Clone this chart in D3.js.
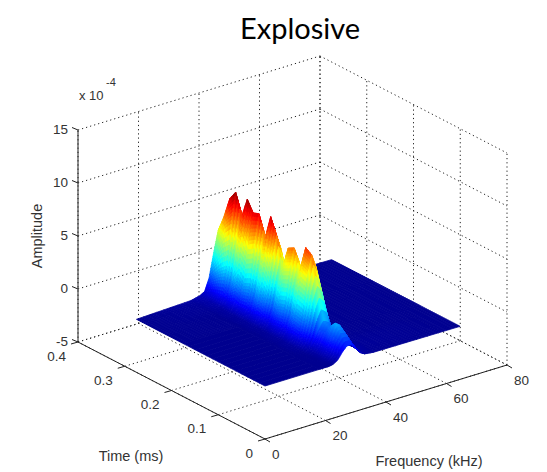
<!DOCTYPE html>
<html>
<head>
<meta charset="utf-8">
<script src="https://cdn.jsdelivr.net/npm/d3@7"></script>
<style>
  html, body { margin: 0; padding: 0; background: #fff; }
  svg { display: block; }
  text { font-family: "Liberation Sans", Arial, sans-serif; fill: #333; }
</style>
</head>
<body>
<div id="chart"></div>
<script>
// values
const freqTicks = [0, 20, 40, 60, 80];
const timeTicks = [0, 0.1, 0.2, 0.3, 0.4];
const ampTicks = [-5, 0, 5, 10, 15];

const freqGrid = [0, 18, 21, 22.5, 24, 25.5, 27, 28.5, 30, 31.5, 33, 36, 64.5];
const timeGrid = [0, 0.0125, 0.025, 0.0375, 0.05, 0.0625, 0.075, 0.0875, 0.1, 0.1125, 0.125, 0.1375,
  0.15, 0.1625, 0.175, 0.1875, 0.2, 0.2125, 0.225, 0.2375, 0.25, 0.2625, 0.275];

// one row per timeGrid entry, one column per freqGrid entry (x 10^-4)
const amplitude = [
  [0, 0, 0, 0.08, 0.35, 0.95, 1.4, 1.45, 0.95, 0.4, 0.15, 0.05, 0],
  [0, 0, 0.02, 0.15, 0.6, 1.6, 2.3, 2.2, 1.4, 0.6, 0.2, 0.08, 0],
  [0, 0, 0.03, 0.2, 0.8, 2.0, 3.0, 2.7, 1.6, 0.65, 0.25, 0.1, 0],
  [0, 0, 0.03, 0.2, 0.7, 1.6, 2.3, 2.0, 1.2, 0.5, 0.2, 0.1, 0],
  [0, 0, 0.05, 0.3, 0.9, 1.9, 2.6, 2.4, 1.5, 0.6, 0.2, 0.08, 0],
  [0, 0, 0.1, 0.6, 2.0, 4.2, 5.6, 4.9, 2.8, 1.0, 0.25, 0.05, 0],
  [0, 0, 0.15, 0.9, 3.0, 6.2, 8.3, 7.0, 3.9, 1.4, 0.3, 0.03, 0],
  [0, 0, 0.18, 1.0, 3.2, 6.5, 8.7, 7.2, 4.0, 1.4, 0.3, 0.03, 0],
  [0, 0, 0.12, 0.7, 2.0, 4.4, 6.3, 5.3, 3.0, 1.1, 0.25, 0.03, 0],
  [0, 0, 0.15, 0.95, 3.0, 6.0, 8.1, 6.8, 3.8, 1.3, 0.3, 0.03, 0],
  [0, 0, 0.15, 0.9, 2.8, 5.7, 7.8, 6.5, 3.6, 1.3, 0.3, 0.03, 0],
  [0, 0, 0.1, 0.6, 1.7, 3.7, 5.6, 4.8, 2.8, 1.0, 0.2, 0.03, 0],
  [0, 0, 0.14, 0.9, 2.8, 6.0, 8.4, 7.0, 4.0, 1.4, 0.3, 0.03, 0],
  [0, 0, 0.18, 1.1, 3.5, 7.2, 9.9, 8.2, 4.6, 1.6, 0.35, 0.03, 0],
  [0, 0, 0.13, 0.8, 2.3, 4.9, 7.5, 6.4, 3.7, 1.3, 0.3, 0.03, 0],
  [0, 0.02, 0.16, 1.0, 3.3, 6.9, 9.6, 7.9, 4.4, 1.6, 0.35, 0.03, 0],
  [0, 0.02, 0.15, 0.95, 3.0, 6.5, 9.4, 8.0, 4.5, 1.7, 0.4, 0.03, 0],
  [0, 0.03, 0.2, 1.15, 3.6, 7.5, 10.4, 8.6, 4.8, 1.7, 0.4, 0.03, 0],
  [0, 0.05, 0.18, 0.9, 2.6, 5.6, 8.4, 7.2, 4.2, 1.5, 0.35, 0.03, 0],
  [0, 0.08, 0.25, 1.2, 3.8, 7.6, 10.5, 8.8, 5.0, 1.8, 0.4, 0.03, 0],
  [0, 0.1, 0.3, 1.1, 3.3, 6.9, 9.6, 8.4, 4.9, 1.8, 0.4, 0.03, 0],
  [0, 0.12, 0.35, 0.9, 2.6, 5.4, 7.6, 7.2, 4.9, 2.0, 0.5, 0.03, 0],
  [0, 0.2, 0.4, 0.65, 1.8, 4.0, 6.0, 6.7, 6.0, 3.0, 0.8, 0.1, 0]
];

const zMax = 10.6;
const jetStops = [0, 0.11, 0.36, 0.61, 0.86, 1];
const jetColors = ['#00008f', '#0000ff', '#00ffff', '#ffff00', '#ff0000', '#800000'];

const width = 547, height = 472;
const origin = {x: 265, y: 439};

// the three axes of the box as screen offsets
const freqX = d3.scaleLinear([0, 80], [0, 242]);
const freqY = d3.scaleLinear([0, 80], [0, -74]);
const timeX = d3.scaleLinear([0, 0.4], [0, -187]);
const timeY = d3.scaleLinear([0, 0.4], [0, -97]);
const ampY = d3.scaleLinear([-5, 15], [0, -212]);
const jet = d3.scaleLinear()
    .domain(jetStops.map(d => d * zMax))
    .range(jetColors)
    .clamp(true);

function project(f, t, a) {
  return [
    origin.x + freqX(f) + timeX(t),
    origin.y + freqY(f) + timeY(t) + ampY(a)
  ];
}

const svg = d3.select('#chart').append('svg')
    .attr('width', width)
    .attr('height', height);

const line = d3.line();

// dotted grid on the floor and the two back walls
const gridLines = [];
freqTicks.forEach(f => {
  gridLines.push([project(f, 0, -5), project(f, 0.4, -5)]);
  gridLines.push([project(f, 0.4, -5), project(f, 0.4, 15)]);
});
timeTicks.forEach(t => {
  gridLines.push([project(0, t, -5), project(80, t, -5)]);
  gridLines.push([project(80, t, -5), project(80, t, 15)]);
});
ampTicks.forEach(a => {
  gridLines.push([project(0, 0.4, a), project(80, 0.4, a)]);
  gridLines.push([project(80, 0.4, a), project(80, 0, a)]);
});

svg.append('g')
    .attr('fill', 'none')
    .attr('stroke', '#222')
    .attr('stroke-dasharray', '1.2 3')
  .selectAll('path')
  .data(gridLines)
  .join('path')
    .attr('d', line);

// surface, painted back to front. Each grid cell is split up so the colour runs smoothly across it
function lerp(a, b, k) { return a + (b - a) * k; }

const surface = svg.append('g');
for (let i = timeGrid.length - 2; i >= 0; i--) {
  for (let j = freqGrid.length - 2; j >= 0; j--) {
    const z00 = amplitude[i][j], z01 = amplitude[i][j + 1];
    const z10 = amplitude[i + 1][j], z11 = amplitude[i + 1][j + 1];
    const flat = z00 === 0 && z01 === 0 && z10 === 0 && z11 === 0;
    const nu = flat ? 1 : 8, nv = flat ? 1 : 3;
    const at = (u, v) => lerp(lerp(z00, z01, u), lerp(z10, z11, u), v);
    const pt = (u, v) => project(
      lerp(freqGrid[j], freqGrid[j + 1], u),
      lerp(timeGrid[i], timeGrid[i + 1], v),
      at(u, v)
    );
    for (let b = nv - 1; b >= 0; b--) {
      for (let a = nu - 1; a >= 0; a--) {
        const u0 = a / nu, u1 = (a + 1) / nu, v0 = b / nv, v1 = (b + 1) / nv;
        const c = jet(at((u0 + u1) / 2, (v0 + v1) / 2));
        surface.append('path')
            .attr('d', line([pt(u0, v0), pt(u1, v0), pt(u1, v1), pt(u0, v1)]) + 'Z')
            .attr('fill', c)
            .attr('stroke', c)
            .attr('stroke-width', 0.8);
      }
    }
  }
}

// solid axes
const axisLines = [
  [project(0, 0.4, -5), project(0, 0.4, 15)],
  [project(0, 0.4, -5), project(0, 0, -5)],
  [project(0, 0, -5), project(80, 0, -5)]
];
const axes = svg.append('g').attr('fill', 'none').attr('stroke', '#222');
axes.selectAll('path.axis')
  .data(axisLines)
  .join('path')
    .attr('class', 'axis')
    .attr('d', line);

const tickLines = [
  ...ampTicks.map(a => { const p = project(0, 0.4, a); return [p, [p[0] - 6, p[1] - 2.5]]; }),
  ...timeTicks.map(t => { const p = project(0, t, -5); return [p, [p[0] - 7, p[1] + 2]]; }),
  ...freqTicks.map(f => { const p = project(f, 0, -5); return [p, [p[0] + 5, p[1] + 3]]; })
];
axes.selectAll('path.tick')
  .data(tickLines)
  .join('path')
    .attr('class', 'tick')
    .attr('d', line);

// tick labels
const labels = svg.append('g').attr('font-size', 13.5);
labels.selectAll('text.amp')
  .data(ampTicks)
  .join('text')
    .attr('class', 'amp')
    .attr('text-anchor', 'end')
    .attr('x', d => project(0, 0.4, d)[0] - 10)
    .attr('y', d => project(0, 0.4, d)[1] - 1)
    .attr('dy', '.35em')
    .text(d => d);
labels.selectAll('text.time')
  .data(timeTicks)
  .join('text')
    .attr('class', 'time')
    .attr('text-anchor', 'end')
    .attr('x', d => project(0, d, -5)[0] - 12)
    .attr('y', d => project(0, d, -5)[1] + 14)
    .attr('dy', '.35em')
    .text(d => d);
labels.selectAll('text.freq')
  .data(freqTicks)
  .join('text')
    .attr('class', 'freq')
    .attr('x', d => project(d, 0, -5)[0] + 7)
    .attr('y', d => project(d, 0, -5)[1] + 15)
    .attr('dy', '.35em')
    .text(d => d);

labels.append('text').attr('x', 131).attr('y', 456).attr('dy', '.35em').attr('font-size', 14.5)
    .attr('text-anchor', 'middle').text('Time (ms)');
labels.append('text').attr('x', 429).attr('y', 461).attr('dy', '.35em').attr('font-size', 14.5)
    .attr('text-anchor', 'middle').text('Frequency (kHz)');
labels.append('text').attr('text-anchor', 'middle').attr('font-size', 14.5)
    .attr('transform', 'translate(37,236) rotate(-90)').attr('dy', '.35em').text('Amplitude');

// exponent
labels.append('text').attr('x', 79).attr('y', 95).attr('dy', '.35em').attr('font-size', 13).text('x 10');
labels.append('text').attr('x', 106).attr('y', 82).attr('dy', '.35em').attr('font-size', 11).text('-4');

svg.append('text')
    .attr('x', 300)
    .attr('y', 39)
    .attr('text-anchor', 'middle')
    .attr('font-size', 29)
    .style('font-family', 'Lato, "Open Sans", sans-serif')
    .style('fill', '#000')
    .text('Explosive');
</script>
</body>
</html>
